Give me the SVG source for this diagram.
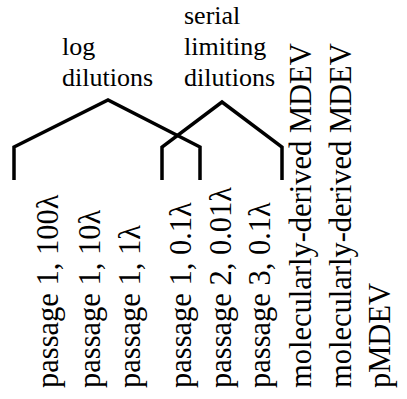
<svg xmlns="http://www.w3.org/2000/svg" width="407" height="399" viewBox="0 0 407 399">
<style>
.br{fill:none;stroke:#000;stroke-width:3.5;stroke-linejoin:miter}
</style>
<rect width="407" height="399" fill="#fff"/>
<g id="connectors">
<polyline class="br" points="14,180 14,147 108,100 200,147 200,180"/>
<polyline class="br" points="162,180 162,147 222,102 282,147 282,180"/>
</g>
<g font-family="Liberation Serif, Times New Roman, serif" fill="#000">
<g id="label-log" font-size="26">
<text x="62" y="55">log</text>
<text x="62" y="86">dilutions</text>
</g>
<g id="label-serial" font-size="26">
<text x="184" y="24">serial</text>
<text x="184" y="55">limiting</text>
<text x="184" y="86">dilutions</text>
</g>
<g font-size="30.5">
<g id="col1"><text transform="translate(58,388) rotate(-90)">passage 1, 100λ</text></g>
<g id="col2"><text transform="translate(100,388) rotate(-90)">passage 1, 10λ</text></g>
<g id="col3"><text transform="translate(140,388) rotate(-90)">passage 1, 1λ</text></g>
<g id="col4"><text transform="translate(191,388) rotate(-90)">passage 1, 0.1λ</text></g>
<g id="col5"><text transform="translate(231,388) rotate(-90)">passage 2, 0.01λ</text></g>
<g id="col6"><text transform="translate(270,388) rotate(-90)">passage 3, 0.1λ</text></g>
<g id="col7"><text transform="translate(311,388) rotate(-90)">molecularly-derived MDEV</text></g>
<g id="col8"><text transform="translate(351,388) rotate(-90)">molecularly-derived MDEV</text></g>
<g id="col9"><text transform="translate(390,388) rotate(-90)">pMDEV</text></g>
</g>
</g>
</svg>
